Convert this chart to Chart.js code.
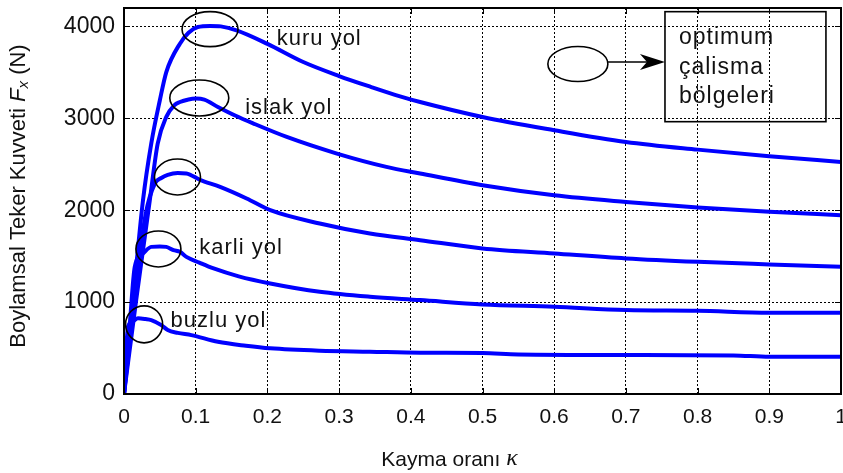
<!DOCTYPE html>
<html>
<head>
<meta charset="utf-8">
<script src="https://cdn.jsdelivr.net/npm/chart.js@4/dist/chart.umd.min.js"></script>
<style>
  html, body { margin: 0; padding: 0; background: #fff; }
  #wrap { width: 843px; height: 473px; }
</style>
</head>
<body>
<div id="wrap"><canvas id="c" width="843" height="473"></canvas></div>
<script>
const FONT = '"Liberation Sans", Arial, Helvetica, sans-serif';

// Tick values and labels
const xTickValues = [0, 0.1, 0.2, 0.3, 0.4, 0.5, 0.6, 0.7, 0.8, 0.9, 1];
const xTickLabels = ['0', '0.1', '0.2', '0.3', '0.4', '0.5', '0.6', '0.7', '0.8', '0.9', '1'];
const yTickValues = [0, 1000, 2000, 3000, 4000];
const yTickLabels = ['0', '1000', '2000', '3000', '4000'];

// Longitudinal tyre force Fx (N) against slip ratio, one curve per road surface
const kuruSlip  = [0, 0.0126, 0.0265, 0.038, 0.05, 0.059, 0.078, 0.09, 0.103, 0.12, 0.135, 0.157, 0.2, 0.25, 0.3, 0.345, 0.385, 0.413, 0.5, 0.6, 0.7, 0.8, 0.9, 1.0];
const kuruForce = [0, 1022, 2109, 2725, 3196, 3503, 3812, 3930, 3993, 4005, 4000, 3957, 3810, 3612, 3460, 3340, 3239, 3177, 3014, 2870, 2743, 2659, 2587, 2525];

const islakSlip  = [0, 0.017, 0.036, 0.047, 0.059, 0.07, 0.078, 0.09, 0.1, 0.112, 0.131, 0.155, 0.18, 0.227, 0.297, 0.366, 0.413, 0.5, 0.6, 0.7, 0.8, 0.9, 1.0];
const islakForce = [0, 1022, 2109, 2725, 3015, 3140, 3177, 3205, 3214, 3203, 3123, 3030, 2945, 2797, 2616, 2471, 2399, 2272, 2163, 2090, 2029, 1982, 1946];

const araSlip  = [0, 0.015, 0.03, 0.043, 0.052, 0.061, 0.075, 0.087, 0.106, 0.134, 0.171, 0.204, 0.273, 0.343, 0.413, 0.5, 0.6, 0.7, 0.8, 0.9, 1.0];
const araForce = [0, 1050, 1950, 2290, 2350, 2385, 2405, 2400, 2330, 2253, 2127, 2000, 1855, 1746, 1674, 1584, 1529, 1475, 1438, 1410, 1384];

const karliSlip  = [0, 0.008, 0.015, 0.0265, 0.038, 0.05, 0.059, 0.069, 0.078, 0.087, 0.105, 0.125, 0.16, 0.204, 0.273, 0.343, 0.413, 0.5, 0.6, 0.7, 0.8, 0.9, 1.0];
const karliForce = [0, 750, 1384, 1529, 1601, 1605, 1601, 1565, 1547, 1492, 1430, 1366, 1280, 1203, 1112, 1058, 1022, 975, 949, 913, 905, 884, 884];

const buzluSlip  = [0, 0.0056, 0.012, 0.0195, 0.03, 0.038, 0.052, 0.061, 0.075, 0.094, 0.131, 0.17, 0.204, 0.273, 0.343, 0.413, 0.5, 0.55, 0.7, 0.85, 0.9, 1.0];
const buzluForce = [0, 731, 790, 823, 815, 804, 750, 696, 665, 641, 568, 525, 497, 471, 460, 449, 445, 430, 424, 420, 405, 405];

const curves = [
  [kuruSlip, kuruForce],
  [islakSlip, islakForce],
  [araSlip, araForce],
  [karliSlip, karliForce],
  [buzluSlip, buzluForce]
];

// Road labels, placed in axis units (slip, force), left-aligned on baseline
const roadLabels = [
  { text: 'kuru yol',  x: 0.213, y: 3797 },
  { text: 'islak yol', x: 0.169, y: 3043 },
  { text: 'karli yol', x: 0.105, y: 1523 },
  { text: 'buzlu yol', x: 0.065, y: 732 }
];

// Rings around each peak (centre in axis units, radii in pixels)
const peakRings = [
  { x: 0.120, y: 3970, rx: 28,   ry: 17.5 },
  { x: 0.105, y: 3221, rx: 29.5, ry: 18 },
  { x: 0.0746, y: 2361, rx: 23,  ry: 18 },
  { x: 0.048, y: 1578, rx: 22.5, ry: 18 },
  { x: 0.028, y: 758,  rx: 18.5, ry: 18.5 }
];

// Key: ring -> arrow -> boxed note
const keyRing = { x: 0.633, y: 3591, rx: 30, ry: 17.5 };
const keyBox = { x0: 0.7545, x1: 0.979, y0: 4160, y1: 2963 };
const keyLines = ['optimum', 'çalisma', 'bölgeleri'];
const keyLineY = [3804, 3482, 3170];
const keyTextX = 0.774;

const annotate = {
  id: 'annotate',
  afterDraw(chart) {
    const { ctx, chartArea: a, scales: { x, y } } = chart;
    ctx.save();
    ctx.strokeStyle = '#000';
    ctx.fillStyle = '#111';

    // axes box
    ctx.lineWidth = 2;
    ctx.strokeRect(Math.round(a.left), Math.round(a.top), Math.round(a.right - a.left), Math.round(a.bottom - a.top));

    // inward tick marks on all four sides
    ctx.lineWidth = 1;
    const tl = 6;
    ctx.beginPath();
    x.ticks.forEach(t => {
      const px = Math.round(x.getPixelForValue(t.value)) + 0.5;
      ctx.moveTo(px, a.bottom); ctx.lineTo(px, a.bottom - tl);
      ctx.moveTo(px, a.top); ctx.lineTo(px, a.top + tl);
    });
    y.ticks.forEach(t => {
      const py = Math.round(y.getPixelForValue(t.value)) + 0.5;
      ctx.moveTo(a.left, py); ctx.lineTo(a.left + tl, py);
      ctx.moveTo(a.right, py); ctx.lineTo(a.right - tl, py);
    });
    ctx.stroke();

    // rings
    ctx.lineWidth = 1.6;
    [...peakRings, keyRing].forEach(r => {
      ctx.beginPath();
      ctx.ellipse(x.getPixelForValue(r.x), y.getPixelForValue(r.y), r.rx, r.ry, 0, 0, Math.PI * 2);
      ctx.stroke();
    });

    // key box
    const bx0 = x.getPixelForValue(keyBox.x0), bx1 = x.getPixelForValue(keyBox.x1);
    const by0 = y.getPixelForValue(keyBox.y0), by1 = y.getPixelForValue(keyBox.y1);
    ctx.lineWidth = 1.6;
    ctx.strokeRect(bx0, by0, bx1 - bx0, by1 - by0);

    // arrow from key ring to box
    const ay = y.getPixelForValue(keyRing.y) - 2;
    const ax0 = x.getPixelForValue(keyRing.x) + keyRing.rx;
    ctx.lineWidth = 1.4;
    ctx.beginPath(); ctx.moveTo(ax0, ay); ctx.lineTo(bx0 - 10, ay); ctx.stroke();
    ctx.fillStyle = '#000';
    ctx.beginPath();
    ctx.moveTo(bx0, ay);
    ctx.lineTo(bx0 - 25, ay - 8);
    ctx.lineTo(bx0 - 18, ay);
    ctx.lineTo(bx0 - 25, ay + 8);
    ctx.closePath();
    ctx.fill();

    // texts
    ctx.fillStyle = '#111';
    ctx.textBaseline = 'alphabetic';
    ctx.textAlign = 'left';
    ctx.letterSpacing = '1px';
    ctx.font = '22px ' + FONT;
    roadLabels.forEach(l => ctx.fillText(l.text, x.getPixelForValue(l.x), y.getPixelForValue(l.y)));
    ctx.font = '23px ' + FONT;
    keyLines.forEach((t, i) => ctx.fillText(t, x.getPixelForValue(keyTextX), y.getPixelForValue(keyLineY[i])));
    ctx.letterSpacing = '0px';

    // x axis title
    ctx.textBaseline = 'middle';
    const xt1 = 'Kayma oranı ';
    const baseFont = '21px ' + FONT;
    const kappaFont = 'italic 24px "Liberation Serif", "Times New Roman", serif';
    ctx.font = baseFont;
    const w1 = ctx.measureText(xt1).width;
    ctx.font = kappaFont;
    const w2 = ctx.measureText('κ').width;
    const sx = 449.5 - (w1 + w2) / 2;
    ctx.font = baseFont;
    ctx.fillText(xt1, sx, 460);
    ctx.font = kappaFont;
    ctx.fillText('κ', sx + w1, 459);

    // y axis title (rotated), with italic F and subscript x
    ctx.save();
    ctx.translate(19, 196);
    ctx.rotate(-Math.PI / 2);
    const parts = [
      { t: 'Boylamsal Teker Kuvveti ', f: '22px ' + FONT, dy: 0 },
      { t: 'F', f: 'italic 22px ' + FONT, dy: 0 },
      { t: 'x', f: 'italic 15px ' + FONT, dy: 5 },
      { t: ' (N)', f: '22px ' + FONT, dy: 0 }
    ];
    let total = 0;
    parts.forEach(p => { ctx.font = p.f; p.w = ctx.measureText(p.t).width; total += p.w; });
    let cx = -total / 2;
    parts.forEach(p => { ctx.font = p.f; ctx.fillText(p.t, cx, p.dy); cx += p.w; });
    ctx.restore();

    ctx.restore();
  }
};

new Chart(document.getElementById('c'), {
  type: 'line',
  data: {
    datasets: curves.map(([sx, fx]) => ({
      data: sx.map((s, i) => ({ x: s, y: fx[i] })),
      borderColor: '#0000ff',
      borderWidth: 4,
      pointRadius: 0,
      fill: false,
      cubicInterpolationMode: 'monotone',
      borderJoinStyle: 'round',
      borderCapStyle: 'round'
    }))
  },
  options: {
    responsive: false,
    animation: false,
    devicePixelRatio: 1,
    layout: { padding: { left: 0, right: 2, top: 8, bottom: 0 } },
    plugins: { legend: { display: false }, tooltip: { enabled: false }, title: { display: false } },
    scales: {
      x: {
        type: 'linear',
        min: 0, max: 1,
        afterBuildTicks(s) { s.ticks = xTickValues.map(v => ({ value: v })); },
        afterFit(s) { s.height = 79; s.paddingLeft = 0; s.paddingRight = 0; },
        ticks: {
          autoSkip: false,
          maxRotation: 0,
          padding: 11,
          color: '#111',
          font: { family: FONT, size: 21 },
          callback: (v, i) => xTickLabels[i]
        },
        grid: { color: '#000', lineWidth: 1, drawTicks: false },
        border: { display: false, dash: [2, 2] }
      },
      y: {
        min: 0, max: 4200,
        afterBuildTicks(s) { s.ticks = yTickValues.map(v => ({ value: v })); },
        afterFit(s) { s.width = 124; s.paddingTop = 0; s.paddingBottom = 0; },
        ticks: {
          autoSkip: false,
          padding: 9,
          color: '#111',
          font: { family: FONT, size: 23 },
          callback: (v, i) => yTickLabels[i]
        },
        grid: { color: '#000', lineWidth: 1, drawTicks: false },
        border: { display: false, dash: [2, 2] }
      }
    }
  },
  plugins: [annotate]
});
</script>
</body>
</html>
